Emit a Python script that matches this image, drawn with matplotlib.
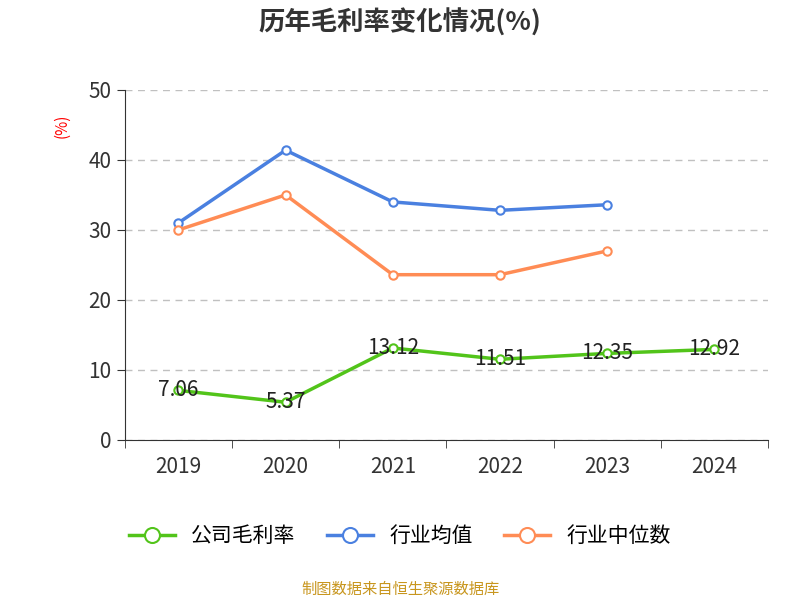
import matplotlib
matplotlib.use('Agg')
import matplotlib.pyplot as plt
from matplotlib import font_manager
import numpy as np

# pick whichever CJK family is actually registered
names = {f.name for f in font_manager.fontManager.ttflist}
cjk = [n for n in ['Noto Sans CJK SC', 'Noto Sans CJK JP', 'Noto Sans CJK TC',
                   'Noto Sans CJK KR', 'Noto Sans SC'] if n in names]
if not cjk:
    cjk = sorted(n for n in names if 'CJK' in n)
plt.rcParams['font.family'] = 'sans-serif'
plt.rcParams['font.sans-serif'] = cjk + ['DejaVu Sans']

years = ['2019', '2020', '2021', '2022', '2023', '2024']
company = [7.06, 5.37, 13.12, 11.51, 12.35, 12.92]
industry_avg = [31.0, 41.4, 34.0, 32.8, 33.6]
industry_median = [30.0, 35.0, 23.6, 23.6, 27.0]

GREEN, BLUE, ORANGE = '#52c41a', '#4a80e0', '#ff8c55'

fig = plt.figure(figsize=(8, 6), dpi=100)
ax = fig.add_axes([0.156, 0.267, 0.804, 0.583])

x = np.arange(len(years))
for vals, c, lab in [(company, GREEN, '公司毛利率'), (industry_avg, BLUE, '行业均值'),
                     (industry_median, ORANGE, '行业中位数')]:
    ax.plot(x[:len(vals)], vals, color=c, lw=2.5, marker='o', ms=6,
            mfc='white', mec=c, mew=1.5, label=lab, zorder=3)

for xi, v in zip(x, company):
    ax.text(xi, v, f'{v:.2f}', ha='center', va='center', fontsize=15, color='#222222', zorder=4)

ax.set_xlim(-0.5, 5.5)
ax.set_ylim(0, 50)
ax.set_yticks(range(0, 51, 10))
ax.set_xticks(x)
ax.set_xticklabels(years)
ax.set_xticks(np.arange(-0.5, 6, 1), minor=True)
ax.tick_params(axis='x', which='major', length=0, labelsize=15, colors='#333333', pad=12)
ax.tick_params(axis='x', which='minor', length=6, color='#333333')
ax.tick_params(axis='y', length=6, labelsize=15, colors='#333333')
ax.grid(axis='y', ls=(0, (5, 4)), color='#c0c0c0', lw=1)
for s in ['top', 'right']:
    ax.spines[s].set_visible(False)
ax.spines['left'].set_color('#333333')
ax.spines['bottom'].set_color('#333333')

fig.text(0.078, 0.79, '(%)', color='red', rotation=90, fontsize=11, ha='center', va='center')
fig.text(0.5, 0.962, '历年毛利率变化情况(%)', ha='center', va='center', fontsize=19, weight='bold', color='#333333')

fig.legend(loc='center', bbox_to_anchor=(0.5, 0.107), ncol=3, frameon=False, fontsize=15,
           markerscale=1.8, handlelength=2.2, columnspacing=1.5)
fig.text(0.5, 0.018, '制图数据来自恒生聚源数据库', ha='center', va='center', fontsize=11, color='#c8961e')

fig.savefig('out.png', dpi=100)
